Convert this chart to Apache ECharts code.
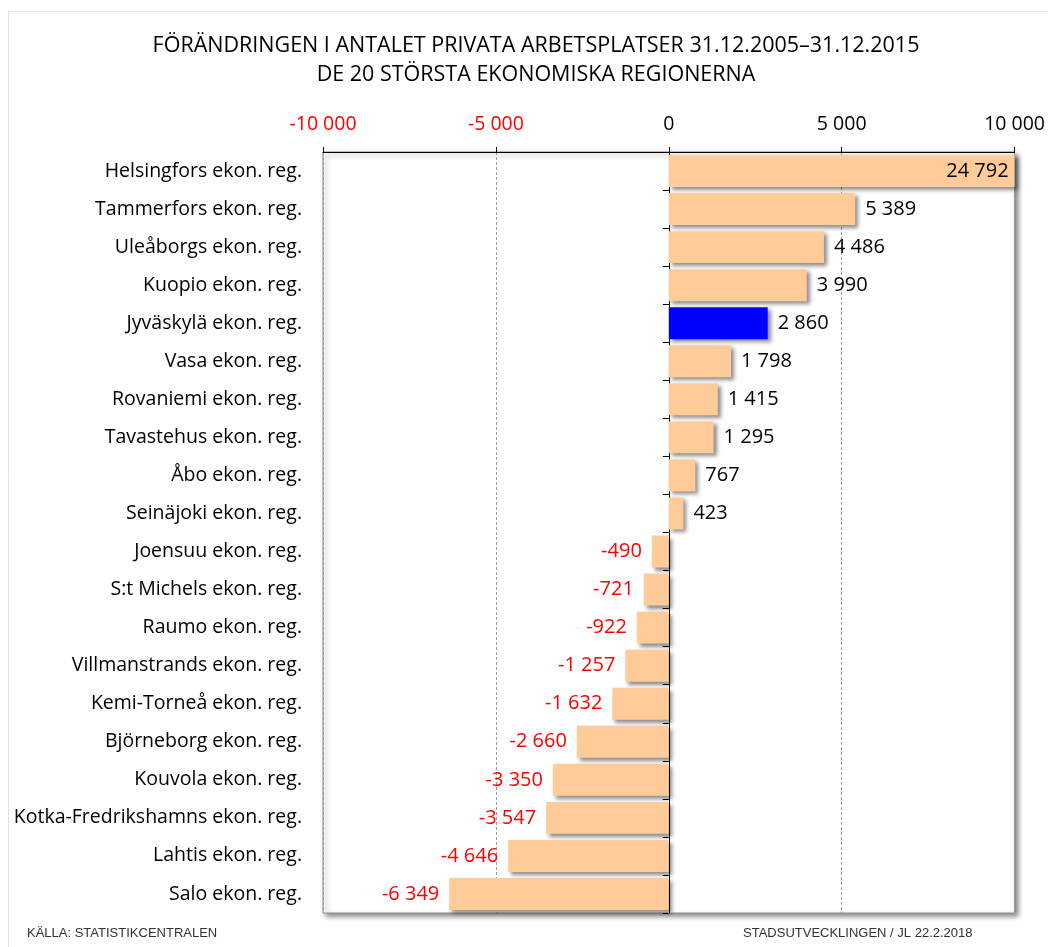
<!DOCTYPE html>
<html><head><meta charset="utf-8">
<script src="https://cdn.jsdelivr.net/npm/echarts@6/dist/echarts.min.js"></script>
<style>html,body{margin:0;padding:0;background:#fff}#c{width:1048px;height:947px}</style>
</head><body><div id="c"></div>
<script>
const categories = ["Helsingfors ekon. reg.","Tammerfors ekon. reg.","Uleåborgs ekon. reg.","Kuopio ekon. reg.","Jyväskylä ekon. reg.","Vasa ekon. reg.","Rovaniemi ekon. reg.","Tavastehus ekon. reg.","Åbo ekon. reg.","Seinäjoki ekon. reg.","Joensuu ekon. reg.","S:t Michels ekon. reg.","Raumo ekon. reg.","Villmanstrands ekon. reg.","Kemi-Torneå ekon. reg.","Björneborg ekon. reg.","Kouvola ekon. reg.","Kotka-Fredrikshamns ekon. reg.","Lahtis ekon. reg.","Salo ekon. reg."];
const values = [24792,5389,4486,3990,2860,1798,1415,1295,767,423,-490,-721,-922,-1257,-1632,-2660,-3350,-3547,-4646,-6349];
const highlighted = ["Jyväskylä ekon. reg."];
const axisMin = -10000, axisMax = 10000, axisStep = 5000;
const titleLines = ["FÖRÄNDRINGEN I ANTALET PRIVATA ARBETSPLATSER 31.12.2005–31.12.2015","DE 20 STÖRSTA EKONOMISKA REGIONERNA"];
const sourceText = "KÄLLA: STATISTIKCENTRALEN";
const creditText = "STADSUTVECKLINGEN / JL 22.2.2018";

const FONT = "Open Sans";
function fmt(v){
  const s = Math.abs(v).toString().replace(/\B(?=(\d{3})+(?!\d))/g, " ");
  return (v<0?"-":"") + s;
}
const chart = echarts.init(document.getElementById('c'), null, {renderer:'canvas'});
const data = values.map((v,i)=>{
  const isHi = highlighted.includes(categories[i]);
  const over = v > axisMax;
  return {
    value: v,
    itemStyle: {color: isHi ? '#0000FF' : '#FFCC99'},
    label: {
      position: over ? 'insideRight' : (v<0 ? 'left' : 'right'),
      color: v<0 ? '#FF0000' : '#000000',
      distance: over ? 6 : 10
    }
  };
});
chart.setOption({
  animation:false,
  backgroundColor:'#fff',
  title:{
    text: titleLines.join('\n'),
    left: 531, top: 26, textAlign:'center',
    textStyle:{fontFamily:FONT,fontSize:21.5,fontWeight:'normal',color:'#000',lineHeight:29}
  },
  graphic:[
    {type:'rect',shape:{x:8.5,y:11.5,width:1100,height:1000},style:{fill:'none',stroke:'#e3e3e3',lineWidth:1},silent:true,z:-10},
    {type:'text',left:27,top:927,style:{text:sourceText,font:'13px "Liberation Sans", Arial',fill:'#333'}},
    {type:'text',left:743,top:927,style:{text:creditText,font:'13px "Liberation Sans", Arial',fill:'#333'}}
  ],
  grid:{left:323,right:33,top:152,bottom:34,show:true,backgroundColor:'#fff',borderColor:'#8c8c8c',borderWidth:1,
    shadowColor:'rgba(0,0,0,0.45)',shadowBlur:5,shadowOffsetX:3,shadowOffsetY:3},
  xAxis:{
    type:'value',position:'top',min:axisMin,max:axisMax,interval:axisStep,
    axisLine:{show:true,onZero:false,lineStyle:{color:'#000',width:1}},
    axisTick:{show:true,length:5,lineStyle:{color:'#000'}},
    axisLabel:{fontFamily:FONT,fontSize:19.5,margin:18,formatter:v=>fmt(v),
      color:(v)=> (Number(v)<0?'#FF0000':'#000000')},
    splitLine:{show:true,lineStyle:{color:'#9a9a9a',type:[3,2],width:1}}
  },
  yAxis:[{
    type:'category',data:categories,inverse:true,position:'left',
    axisLine:{show:false,onZero:false},axisTick:{show:false},
    axisLabel:{fontFamily:FONT,fontSize:19.5,color:'#000',margin:21},
    splitLine:{show:false}
  },{
    type:'category',data:categories,inverse:true,position:'left',
    axisLine:{show:true,onZero:true,lineStyle:{color:'#000',width:1}},
    axisTick:{show:true,length:6,lineStyle:{color:'#000'}},
    axisLabel:{show:false},splitLine:{show:false}
  }],
  series:[{
    type:'bar',data:data,barCategoryGap:'16%',clip:true,yAxisIndex:0,
    itemStyle:{shadowColor:'rgba(0,0,0,0.45)',shadowBlur:4,shadowOffsetX:3,shadowOffsetY:3},
    label:{show:true,fontFamily:FONT,fontSize:20,formatter:p=>fmt(p.value)}
  }]
});
</script></body></html>
